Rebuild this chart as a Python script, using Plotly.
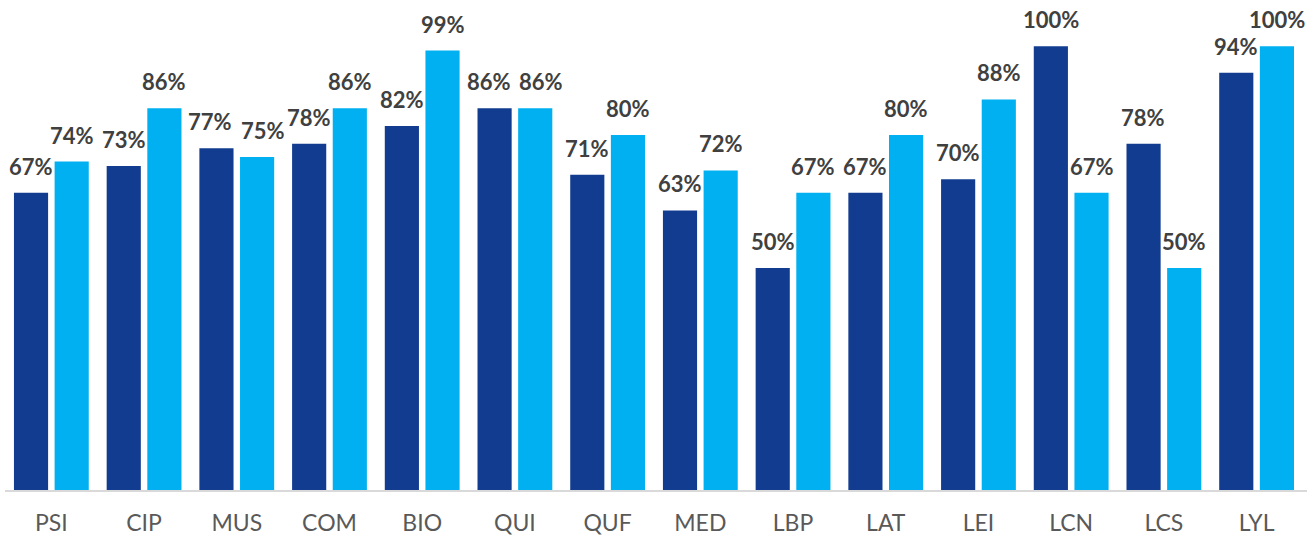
import plotly.graph_objects as go

categories = ["PSI", "CIP", "MUS", "COM", "BIO", "QUI", "QUF", "MED", "LBP", "LAT", "LEI", "LCN", "LCS", "LYL"]
series_a = [67, 73, 77, 78, 82, 86, 71, 63, 50, 67, 70, 100, 78, 94]
series_b = [74, 86, 75, 86, 99, 86, 80, 72, 67, 80, 88, 67, 50, 100]

dark = "#123C8F"
light = "#00B0F0"
FONT = "Lato"
label_font = dict(family=FONT, size=22, color="#404040", weight="bold")

fig = go.Figure()
for vals, col in [(series_a, dark), (series_b, light)]:
    fig.add_trace(go.Bar(
        x=categories, y=vals,
        marker=dict(color=col, line=dict(width=0)),
        showlegend=False, hoverinfo="x+y",
    ))

slot_shift = 20.4
for i, c in enumerate(categories):
    a, b = series_a[i], series_b[i]
    spread = 6 if abs(a - b) <= 3 else 0  # keep near-equal labels from colliding
    for v, dx in [(a, -slot_shift - spread), (b, slot_shift + spread)]:
        fig.add_annotation(
            x=c, y=v, text=f"{v}%", showarrow=False,
            xanchor="center", yanchor="bottom",
            xshift=dx, yshift=11, font=label_font,
        )

fig.update_layout(
    width=1310, height=537,
    margin=dict(l=5, r=3, t=0, b=47),
    paper_bgcolor="white", plot_bgcolor="white",
    barmode="group", bargap=0.123, bargroupgap=0.16,
    xaxis=dict(
        showline=True, linecolor="#D9D9D9", linewidth=1.5,
        ticks="", showgrid=False,
        tickfont=dict(family=FONT, size=23, color="#595959"),
        ticklabelstandoff=12,
    ),
    yaxis=dict(range=[0, 110.4], visible=False, showgrid=False),
)

fig.write_html("out.html", post_script="document.body.style.margin='0';",
               config={"displayModeBar": False})
